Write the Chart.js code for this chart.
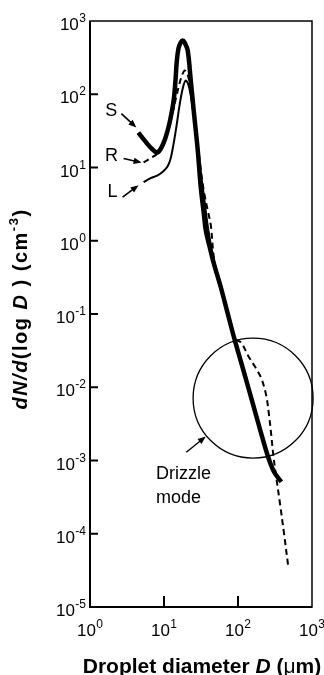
<!DOCTYPE html>
<html lang="en">
<head>
  <meta charset="UTF-8" />
  <title>Droplet size distribution</title>
  <script src="https://cdn.jsdelivr.net/npm/chart.js"></script>
  <style>
    html, body { margin: 0; padding: 0; background: #fff; }
  </style>
</head>
<body>
  <canvas id="dsd" width="324" height="675"></canvas>

  <script>
    // droplet diameter D (um) and dN/dlogD (cm^-3)
    const sDiam = [4.5, 5.6, 6.8, 8.2, 9.8, 11.2, 12.3, 13.5, 14.3, 14.8, 15.7, 16.8, 17.9, 19.0, 20.9, 23.0,
                   25.2, 28.6, 31.4, 34.5, 36.7, 41.6, 47.1, 58.7, 73.1, 88.3, 113, 141, 176, 212, 256, 309, 385];
    const sConc = [30, 22.7, 18.2, 16.1, 21.3, 32, 48, 82, 154, 263, 422, 509, 542, 509, 396, 154,
                   60, 17.1, 5.35, 2.36, 1.39, 0.81, 0.49, 0.23, 0.099, 0.048, 0.02, 0.0091, 0.0041, 0.0021, 0.00111, 6.9e-4, 5.1e-4];

    const rDiam = [5.3, 6.5, 8.2, 10.1, 11.9, 13.5, 14.8, 15.7, 17.3, 19.0, 20.9, 23.0, 25.9, 30.4, 34.5, 39.0, 43.0,
                   47.1, 56.0, 73, 90.6, 110, 137, 170, 206, 240, 263, 282, 300, 326, 372, 422, 479];
    const rConc = [11.7, 13.3, 15.6, 22, 37.5, 64, 97, 124, 175, 211, 186, 113, 44, 12.4, 4.8, 2.6, 1.6,
                   0.6, 0.25, 0.099, 0.046, 0.041, 0.027, 0.019, 0.0133, 0.0078, 0.0041, 0.0022, 0.00118, 6.3e-4, 2.45e-4, 9.5e-5, 3.5e-5];

    const lDiam = [5.3, 6.5, 8.2, 9.8, 11.2, 12.3, 13.5, 14.8, 16.2, 17.9, 19.6, 21.5, 23.6, 26.8, 30.4, 34.5, 39.0,
                   47.1, 58.7, 73.1, 88.3, 113, 141, 176, 212, 256, 309];
    const lConc = [6.3, 7.1, 7.8, 8.9, 10.4, 13.3, 21.3, 37.5, 70, 120, 154, 132, 82, 32, 10.7, 4.2, 1.6,
                   0.54, 0.23, 0.099, 0.048, 0.02, 0.0091, 0.0041, 0.0021, 0.00111, 7.3e-4];

    const seriesNames = ['S', 'R', 'L'];
    const drizzleCentre = [160, 0.0071];   // D, N of the circled drizzle mode
    const drizzleText = ['Drizzle', 'mode'];

    const xTickExps = [0, 1, 2, 3];
    const yTickExps = [3, 2, 1, 0, -1, -2, -3, -4, -5];

    const FONT = '"Liberation Sans", Arial, Helvetica, sans-serif';

    function pts(xs, ys) {
      return xs.map((x, i) => ({ x: x, y: ys[i] }));
    }

    function arrow(ctx, x0, y0, x1, y1) {
      const a = Math.atan2(y1 - y0, x1 - x0);
      ctx.beginPath();
      ctx.moveTo(x0, y0);
      ctx.lineTo(x1 - 5 * Math.cos(a), y1 - 5 * Math.sin(a));
      ctx.stroke();
      ctx.beginPath();
      ctx.moveTo(x1, y1);
      ctx.lineTo(x1 - 8 * Math.cos(a) + 3.2 * Math.sin(a), y1 - 8 * Math.sin(a) - 3.2 * Math.cos(a));
      ctx.lineTo(x1 - 8 * Math.cos(a) - 3.2 * Math.sin(a), y1 - 8 * Math.sin(a) + 3.2 * Math.cos(a));
      ctx.closePath();
      ctx.fill();
    }

    // "10" with a raised exponent
    function powLabel(ctx, exp, x, y, align) {
      const base = '10', sup = String(exp);
      ctx.font = '17px ' + FONT;
      const wb = ctx.measureText(base).width;
      ctx.font = '12px ' + FONT;
      const ws = ctx.measureText(sup).width;
      const w = wb + ws + 0.5;
      let left = align === 'right' ? x - w : x - w / 2;
      ctx.textAlign = 'left';
      ctx.textBaseline = 'alphabetic';
      ctx.font = '17px ' + FONT;
      ctx.fillText(base, left, y);
      ctx.font = '12px ' + FONT;
      ctx.fillText(sup, left + wb + 0.5, y - 8);
    }

    // text made of styled runs along one baseline
    function runs(ctx, parts, x, y, spacing) {
      let total = 0;
      parts.forEach(p => { ctx.font = p.f; total += ctx.measureText(p.t).width + spacing * p.t.length; });
      let cx = x - total / 2;
      ctx.textAlign = 'left';
      ctx.textBaseline = 'alphabetic';
      parts.forEach(p => {
        ctx.font = p.f;
        ctx.letterSpacing = spacing + 'px';
        ctx.fillText(p.t, cx, y + (p.dy || 0));
        cx += ctx.measureText(p.t).width;
      });
      ctx.letterSpacing = '0px';
    }

    const decorations = {
      id: 'decorations',
      afterDraw(chart) {
        const ctx = chart.ctx;
        const area = chart.chartArea;
        const xs = chart.scales.x, ys = chart.scales.y;
        ctx.save();
        ctx.strokeStyle = '#000';
        ctx.fillStyle = '#000';

        // frame
        ctx.lineWidth = 1.5;
        ctx.strokeRect(area.left, area.top, area.right - area.left, area.bottom - area.top);
        ctx.lineWidth = 2;
        ctx.beginPath();
        ctx.moveTo(area.left, area.top); ctx.lineTo(area.left, area.bottom); ctx.lineTo(area.right, area.bottom);
        ctx.stroke();

        // inward ticks + labels
        xs.ticks.forEach(t => {
          const px = xs.getPixelForValue(t.value);
          if (px > area.left + 2 && px < area.right - 2) {
            ctx.beginPath(); ctx.moveTo(px, area.bottom); ctx.lineTo(px, area.bottom - 11); ctx.stroke();
          }
          powLabel(ctx, Math.round(Math.log10(t.value)), px, area.bottom + 29, 'center');
        });
        ys.ticks.forEach(t => {
          const py = ys.getPixelForValue(t.value);
          if (py > area.top + 2 && py < area.bottom - 2) {
            ctx.beginPath(); ctx.moveTo(area.left, py); ctx.lineTo(area.left + 8, py); ctx.stroke();
          }
          powLabel(ctx, Math.round(Math.log10(t.value)), area.left - 4, py + 9, 'right');
        });

        // axis titles
        const B = 'bold 21px ' + FONT, BI = 'italic bold 21px ' + FONT;
        runs(ctx, [
          { t: 'Droplet diameter ', f: B },
          { t: 'D', f: BI },
          { t: ' (', f: B },
          { t: 'μ', f: '21px ' + FONT },
          { t: 'm)', f: B }
        ], (area.left + area.right) / 2 + 1, 673, 0);

        const B2 = 'bold 20px ' + FONT, BI2 = 'italic bold 20px ' + FONT;
        ctx.save();
        ctx.translate(27, 309);
        ctx.rotate(-Math.PI / 2);
        runs(ctx, [
          { t: 'dN/d', f: BI2 },
          { t: '(log ', f: B2 },
          { t: 'D', f: BI2 },
          { t: ' ) (cm', f: B2 },
          { t: '-3', f: 'bold 13px ' + FONT, dy: -9 },
          { t: ')', f: B2 }
        ], 0, 0, 1.5);
        ctx.restore();

        // curve labels with arrows
        ctx.lineWidth = 1.6;
        ctx.font = '18px ' + FONT;
        ctx.textAlign = 'center';
        ctx.textBaseline = 'middle';
        const offs = {
          S: { t: [-27, -22], a: [-17, -19], b: [-2, -5] },
          R: { t: [-32, -6], a: [-20, -4], b: [-2, 0] },
          L: { t: [-31, 10], a: [-21, 15], b: [-5, 3] }
        };
        seriesNames.forEach((name, i) => {
          const p = chart.getDatasetMeta(i).data[0];
          const o = offs[name];
          ctx.fillText(name, p.x + o.t[0], p.y + o.t[1]);
          arrow(ctx, p.x + o.a[0], p.y + o.a[1], p.x + o.b[0], p.y + o.b[1]);
        });

        // drizzle mode note
        const cx = xs.getPixelForValue(drizzleCentre[0]);
        const cy = ys.getPixelForValue(drizzleCentre[1]);
        const rr = 60;
        const ang = 141 * Math.PI / 180;
        ctx.lineWidth = 1.4;
        arrow(ctx, cx + (rr + 26) * Math.cos(ang), cy + (rr + 26) * Math.sin(ang),
                   cx + (rr + 1) * Math.cos(ang), cy + (rr + 1) * Math.sin(ang));
        ctx.font = '18px ' + FONT;
        ctx.textAlign = 'left';
        ctx.textBaseline = 'alphabetic';
        ctx.fillText(drizzleText[0], cx - 97, cy + 81);
        ctx.fillText(drizzleText[1], cx - 97, cy + 105);
        ctx.restore();
      }
    };

    new Chart(document.getElementById('dsd'), {
      type: 'line',
      data: {
        datasets: [
          {
            label: seriesNames[0], data: pts(sDiam, sConc),
            borderColor: '#000', borderWidth: 4.5, pointRadius: 0, tension: 0.35, order: 0
          },
          {
            label: seriesNames[1], data: pts(rDiam, rConc),
            borderColor: '#000', borderWidth: 2, borderDash: [6, 4], pointRadius: 0, tension: 0.35, order: 1
          },
          {
            label: seriesNames[2], data: pts(lDiam, lConc),
            borderColor: '#000', borderWidth: 2, pointRadius: 0, tension: 0.35, order: 2
          },
          {
            type: 'bubble', label: 'drizzle',
            data: [{ x: drizzleCentre[0], y: drizzleCentre[1], r: 60 }],
            borderColor: '#000', borderWidth: 1.3, backgroundColor: 'rgba(0,0,0,0)',
            clip: false, order: 10
          }
        ]
      },
      options: {
        responsive: false,
        animation: false,
        events: [],
        layout: { autoPadding: false, padding: { top: 21, right: 12, left: 0, bottom: 0 } },
        plugins: { legend: { display: false }, tooltip: { enabled: false } },
        scales: {
          x: {
            type: 'logarithmic', min: 1, max: 1000,
            grid: { display: false, drawTicks: false }, border: { display: false },
            ticks: { display: false },
            afterBuildTicks: s => { s.ticks = xTickExps.map(e => ({ value: Math.pow(10, e) })); },
            afterFit: s => { s.height = 68; }
          },
          y: {
            type: 'logarithmic', min: 1e-5, max: 1000,
            grid: { display: false, drawTicks: false }, border: { display: false },
            ticks: { display: false },
            afterBuildTicks: s => { s.ticks = yTickExps.map(e => ({ value: Math.pow(10, e) })); },
            afterFit: s => { s.width = 90; }
          }
        }
      },
      plugins: [decorations]
    });
  </script>
</body>
</html>
